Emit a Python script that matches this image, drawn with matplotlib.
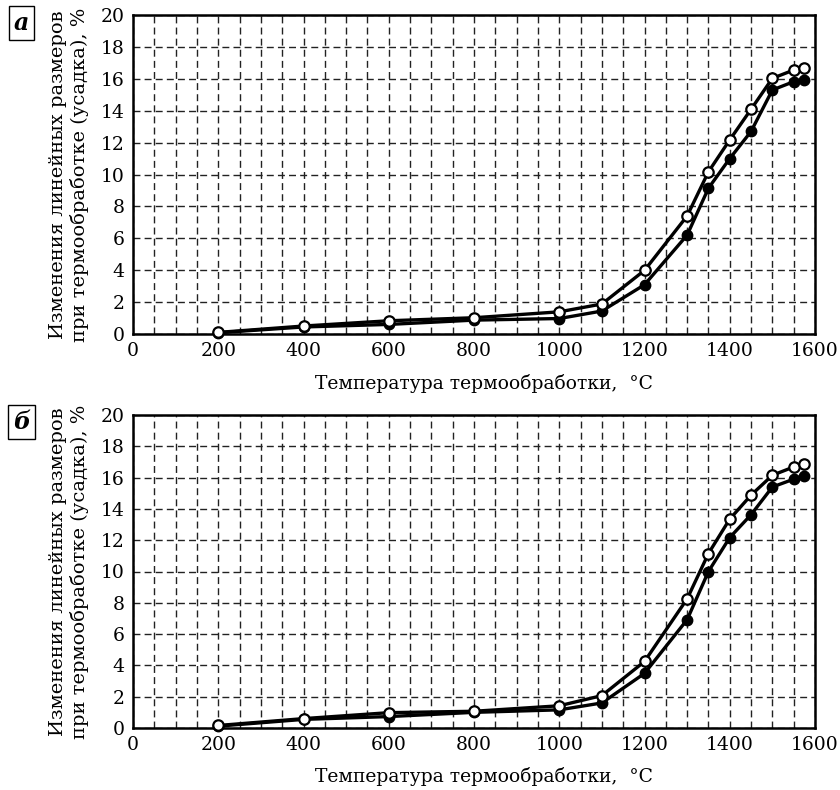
import matplotlib
matplotlib.use("Agg")
import matplotlib.pyplot as plt
from matplotlib.ticker import MultipleLocator

plt.rcParams['font.family'] = ['DejaVu Serif']

temps = [200, 400, 600, 800, 1000, 1100, 1200, 1300, 1350, 1400, 1450, 1500, 1550, 1575]

a_open = [0.10, 0.50, 0.83, 1.02, 1.39, 1.88, 3.99, 7.40, 10.17, 12.17, 14.09, 16.03, 16.55, 16.70]
a_filled = [0.08, 0.44, 0.60, 0.87, 0.97, 1.44, 3.09, 6.20, 9.14, 11.00, 12.70, 15.30, 15.82, 15.93]

b_open = [0.16, 0.60, 0.98, 1.07, 1.42, 2.07, 4.25, 8.25, 11.15, 13.35, 14.88, 16.15, 16.68, 16.87]
b_filled = [0.12, 0.55, 0.73, 1.00, 1.16, 1.60, 3.49, 6.92, 10.00, 12.17, 13.63, 15.40, 15.90, 16.08]

panel_labels = ['а', 'б']
ylabel = 'Изменения линейных размеров\nпри термообработке (усадка), %'
xlabel = 'Температура термообработки,  °С'
xticks = [0, 200, 400, 600, 800, 1000, 1200, 1400, 1600]
yticks = list(range(0, 21, 2))

fig = plt.figure(figsize=(8.4, 7.9), dpi=100)
W, H = 840, 790

def axes_px(l, t, r, b):
    return fig.add_axes([l / W, 1 - b / H, (r - l) / W, (b - t) / H])

ax_a = axes_px(133, 15, 815, 334)
ax_b = axes_px(133, 415, 815, 728)

grid_style = dict(color='#222222', linestyle=(0, (5, 3)), linewidth=1.0)

for ax, yo, yf, lab, by in [(ax_a, a_open, a_filled, panel_labels[0], 23),
                            (ax_b, b_open, b_filled, panel_labels[1], 422)]:
    ax.set_xlim(0, 1600)
    ax.set_ylim(0, 20)
    ax.set_xticks(xticks)
    ax.set_yticks(yticks)
    ax.xaxis.set_minor_locator(MultipleLocator(50))
    ax.grid(True, which='both', axis='x', **grid_style)
    ax.grid(True, which='major', axis='y', **grid_style)
    ax.tick_params(axis='both', which='both', direction='in', length=0, labelsize=13.5, pad=6, colors='black')
    for s in ax.spines.values():
        s.set_linewidth(1.8)
        s.set_color('black')
    ax.plot(temps, yf, color='black', linewidth=2.4, marker='o', markersize=7.5,
            markerfacecolor='black', markeredgecolor='black', zorder=3, clip_on=False)
    ax.plot(temps, yo, color='black', linewidth=2.4, marker='o', markersize=7.5,
            markerfacecolor='white', markeredgecolor='black', markeredgewidth=1.6, zorder=4, clip_on=False)
    ax.set_ylabel(ylabel, fontsize=14, linespacing=1.2)
    ax.yaxis.label.set_va('center')
    ax.yaxis.set_label_coords(-0.094, 0.5)
    ax.set_xlabel(xlabel, fontsize=13.5)
    ax.xaxis.set_label_coords(0.515, -0.125)
    fig.text(21.5 / W, 1 - by / H, lab, fontsize=17, fontstyle='italic', fontweight='bold',
             ha='center', va='center',
             bbox=dict(boxstyle='square,pad=0.22', facecolor='white', edgecolor='black', linewidth=1.0))

fig.savefig('out.png', dpi=100)
